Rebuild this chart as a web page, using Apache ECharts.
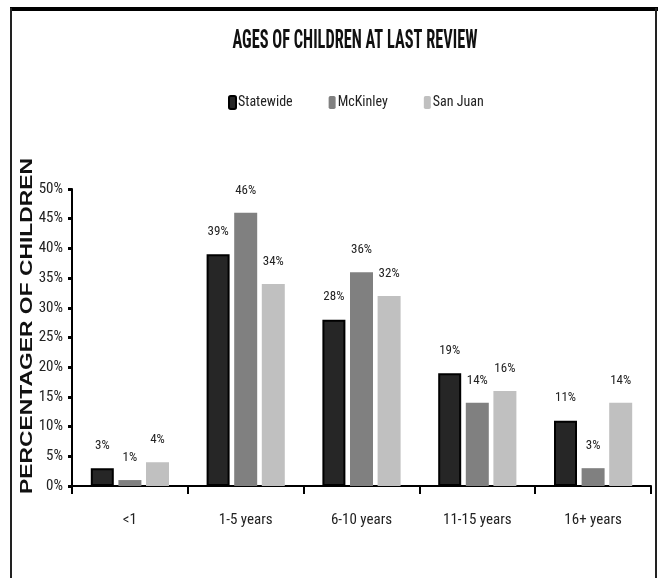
<!DOCTYPE html>
<html>
<head>
<meta charset="utf-8">
<script src="https://cdn.jsdelivr.net/npm/echarts@6/dist/echarts.min.js"></script>
<style>
  html, body { margin: 0; padding: 0; background: #fff; }
  #chart { width: 660px; height: 578px; }
</style>
</head>
<body>
<div id="chart"></div>
<script>
// data
const categories = ['<1', '1-5 years', '6-10 years', '11-15 years', '16+ years'];
const statewide = [3, 39, 28, 19, 11];
const mckinley = [1, 46, 36, 14, 3];
const sanJuan = [4, 34, 32, 16, 14];
const yTicks = [0, 5, 10, 15, 20, 25, 30, 35, 40, 45, 50];

const narrow = '"Roboto Condensed", "Liberation Sans", sans-serif';
const titleText = 'AGES OF CHILDREN AT LAST REVIEW';
const yTitleText = 'PERCENTAGER OF CHILDREN';
const titleFont = 'bold 25px "Roboto Condensed", sans-serif';
const yTitleFont = 'bold 17px "Liberation Sans", Arial, sans-serif';

// squeeze / stretch the two titles to the widths seen in the picture
const ctx = document.createElement('canvas').getContext('2d');
function textWidth(text, font) {
  ctx.font = font;
  return ctx.measureText(text).width;
}
const titleScale = 245 / textWidth(titleText, titleFont);
const yTitleScale = 336 / textWidth(yTitleText, yTitleFont);

const chart = echarts.init(document.getElementById('chart'));

const labelStyle = {
  show: true,
  position: 'top',
  distance: 16,
  formatter: p => p.value + '%',
  fontFamily: narrow,
  fontSize: 13,
  color: '#222'
};

chart.setOption({
  animation: false,
  backgroundColor: '#fff',
  legend: {
    top: 90,
    left: 223,
    itemWidth: 7,
    itemHeight: 13,
    itemGap: 36,
    textStyle: { fontFamily: narrow, fontSize: 14, color: '#222', padding: [0, 0, 0, -3] },
    data: ['Statewide', 'McKinley', 'San Juan']
  },
  grid: { left: 72, right: 9, top: 189, bottom: 92, containLabel: false },
  xAxis: {
    type: 'category',
    data: categories,
    axisLine: { lineStyle: { color: '#000', width: 2 } },
    axisTick: { show: true, length: 8, lineStyle: { color: '#000', width: 2 } },
    axisLabel: { fontFamily: narrow, fontSize: 15, color: '#222', margin: 27 }
  },
  yAxis: {
    type: 'value',
    min: 0,
    max: 50,
    interval: 5,
    splitLine: { show: false },
    axisLine: { show: true, lineStyle: { color: '#000', width: 2 } },
    axisTick: { show: true, length: 4, lineStyle: { color: '#000', width: 3 } },
    axisLabel: {
      fontFamily: narrow, fontSize: 15, color: '#222', margin: 9,
      formatter: v => yTicks.includes(v) ? v + '%' : ''
    }
  },
  graphic: [
    // frame round the chart (no bottom edge in the reference)
    { type: 'line', shape: { x1: 10, y1: 9, x2: 658, y2: 9 }, style: { stroke: '#000', lineWidth: 4 } },
    { type: 'line', shape: { x1: 11, y1: 8, x2: 11, y2: 578 }, style: { stroke: '#222', lineWidth: 2 } },
    { type: 'line', shape: { x1: 656, y1: 8, x2: 656, y2: 578 }, style: { stroke: '#222', lineWidth: 2 } },
    {
      type: 'text',
      x: 355,
      y: 42,
      scaleX: titleScale,
      style: {
        text: titleText,
        font: titleFont,
        fill: '#111',
        align: 'center',
        verticalAlign: 'middle'
      }
    },
    {
      type: 'text',
      x: 27,
      y: 326,
      rotation: Math.PI / 2,
      scaleX: yTitleScale,
      style: {
        text: yTitleText,
        font: yTitleFont,
        fill: '#111',
        align: 'center',
        verticalAlign: 'middle'
      }
    }
  ],
  series: [
    {
      name: 'Statewide',
      type: 'bar',
      data: statewide,
      barWidth: 23,
      barGap: '20%',
      itemStyle: { color: '#262626', borderColor: '#000', borderWidth: 2 },
      label: labelStyle
    },
    {
      name: 'McKinley',
      type: 'bar',
      data: mckinley,
      barWidth: 23,
      barGap: '20%',
      itemStyle: { color: '#808080' },
      label: labelStyle
    },
    {
      name: 'San Juan',
      type: 'bar',
      data: sanJuan,
      barWidth: 23,
      barGap: '20%',
      itemStyle: { color: '#c0c0c0' },
      label: labelStyle
    }
  ]
});
</script>
</body>
</html>
